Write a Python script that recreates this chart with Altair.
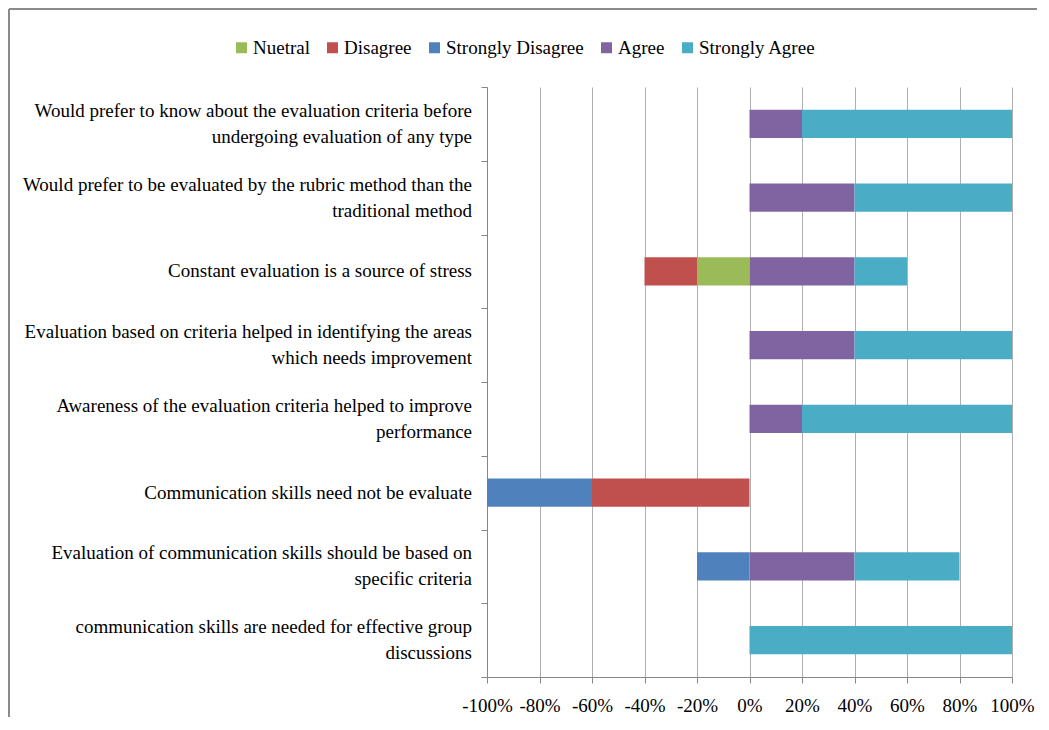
import altair as alt
import pandas as pd

categories = [
    "Would prefer to know about the evaluation criteria before|undergoing evaluation of any type",
    "Would prefer to be evaluated by the rubric method than the|traditional method",
    "Constant evaluation is a source of stress",
    "Evaluation based on criteria helped in identifying  the areas|which needs improvement",
    "Awareness of the evaluation criteria helped to improve|performance",
    "Communication skills need not be evaluate",
    "Evaluation of communication skills should be based on|specific criteria",
    "communication skills are needed for effective group|discussions",
]
series = ["Nuetral", "Disagree", "Strongly Disagree", "Agree", "Strongly Agree"]
colors = ["#9BBB59", "#C0504D", "#4F81BD", "#8064A2", "#4BACC6"]

# percentages per category (negative side for Neutral/Disagree/Strongly Disagree)
nuetral = [0, 0, -20, 0, 0, 0, 0, 0]
disagree = [0, 0, -20, 0, 0, -60, 0, 0]
strongly_disagree = [0, 0, 0, 0, 0, -40, -20, 0]
agree = [20, 40, 40, 40, 20, 0, 40, 0]
strongly_agree = [80, 60, 20, 60, 80, 0, 40, 100]

x_ticks = [-100, -80, -60, -40, -20, 0, 20, 40, 60, 80, 100]

rows = []
for name, vals in zip(series, [nuetral, disagree, strongly_disagree, agree, strongly_agree]):
    for cat, v in zip(categories, vals):
        if v != 0:
            rows.append({"cat": cat, "series": name, "value": v, "ord": series.index(name)})
df = pd.DataFrame(rows)
cat_df = pd.DataFrame({"cat": categories})

FONT = "Liberation Serif"
FS = 19

y_enc = alt.Y("cat:N", sort=categories, title=None,
              scale=alt.Scale(paddingInner=0, paddingOuter=0),
              axis=alt.Axis(labels=False, tickSize=6, tickBand="extent",
                            tickColor="#868686", domainColor="#868686", grid=False))

bars = alt.Chart(df).mark_bar(height=alt.RelativeBandSize(0.38)).encode(
    y=y_enc,
    x=alt.X("value:Q", stack="zero", title=None,
            scale=alt.Scale(domain=[-100, 100], nice=False),
            axis=alt.Axis(values=x_ticks, labelExpr="datum.value + '%'", labelFont=FONT,
                          labelFontSize=FS, labelColor="black", labelPadding=13,
                          tickSize=6, tickColor="#868686", domainColor="#868686",
                          grid=True, gridColor="#b0b0b0", labelFlush=False)),
    color=alt.Color("series:N", scale=alt.Scale(domain=series, range=colors),
                    legend=alt.Legend(title=None, orient="none", legendX=-255, legendY=-49,
                                      direction="horizontal", columns=5,
                                      labelFont=FONT, labelFontSize=FS, labelColor="black",
                                      symbolType="square", symbolSize=121,
                                      symbolStrokeWidth=0, labelOffset=2,
                                      columnPadding=13)),
    order=alt.Order("ord:Q"),
)

text_base = alt.Chart(cat_df).transform_calculate(
    n="length(split(datum.cat, '|'))",
    l1="split(datum.cat, '|')[0]",
    l2="length(split(datum.cat, '|')) > 1 ? split(datum.cat, '|')[1] : ''",
)

single = text_base.transform_filter("datum.n == 1").mark_text(
    align="right", baseline="middle", font=FONT, fontSize=FS, color="black", dx=-15
).encode(y=y_enc, x=alt.value(0), text="l1:N")

first = text_base.transform_filter("datum.n > 1").mark_text(
    align="right", baseline="middle", font=FONT, fontSize=FS, color="black", dx=-15, dy=-13
).encode(y=y_enc, x=alt.value(0), text="l1:N")

second = text_base.transform_filter("datum.n > 1").mark_text(
    align="right", baseline="middle", font=FONT, fontSize=FS, color="black", dx=-15, dy=13
).encode(y=y_enc, x=alt.value(0), text="l2:N")

frame_data = alt.Data(values=[{}])
left_line = alt.Chart(frame_data).mark_rule(color="#8a8a8a", strokeWidth=2).encode(
    x=alt.value(-478), y=alt.value(-78), y2=alt.value(631))
top_line = alt.Chart(frame_data).mark_rule(color="#8a8a8a", strokeWidth=2).encode(
    x=alt.value(-478), x2=alt.value(550), y=alt.value(-78))

chart = alt.layer(bars, single, first, second, left_line, top_line).properties(
    width=525, height=590,
    autosize=alt.AutoSizeParams(type="none"),
    padding={"left": 479, "top": 79, "right": 25, "bottom": 40},
).configure_view(stroke=None).configure_axis(labelFont=FONT).configure_legend(labelFont=FONT)

chart.save("out.html", embed_options={"renderer": "svg", "actions": False})
